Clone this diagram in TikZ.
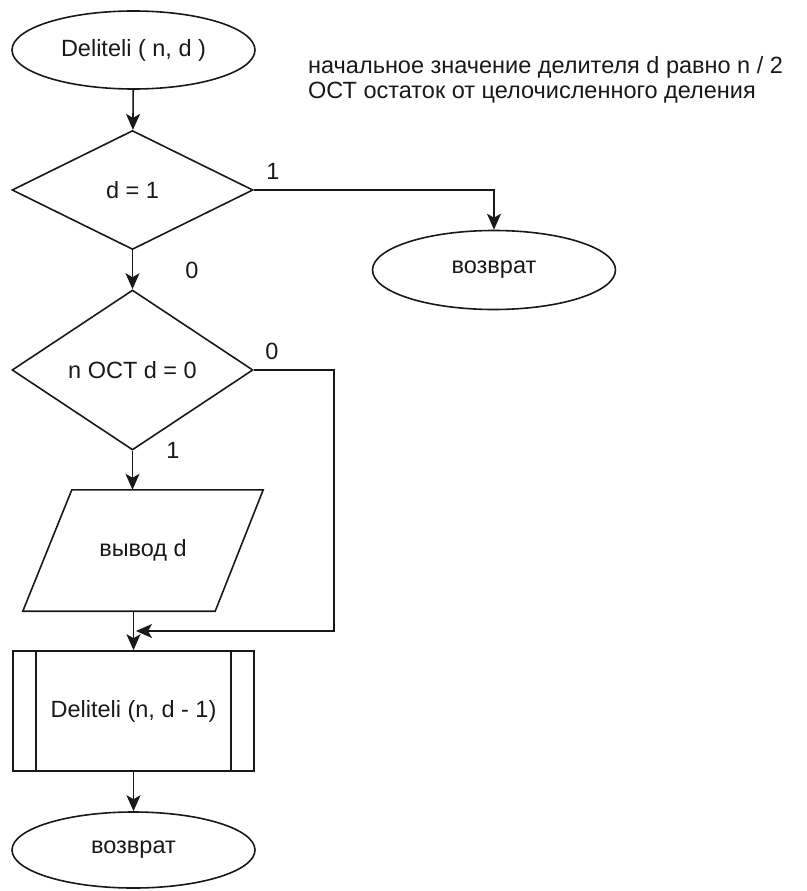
\documentclass[tikz,border=0pt]{standalone}
\usepackage{fontspec}
\setmainfont{Liberation Sans}
\usetikzlibrary{shapes.geometric,arrows.meta}
\begin{document}
\begin{tikzpicture}[x=1pt,y=-1pt,
  every node/.style={font=\fontsize{23.5}{26}\selectfont, inner sep=0pt, text=black!90},
  line/.style={line width=1.6pt, draw=black!90},
  arr/.style={line, -{Stealth[length=16pt,width=14pt,inset=4pt]}},
  term/.style={ellipse, line, minimum width=243pt, minimum height=78pt},
  cond/.style={diamond, line, minimum width=241pt, minimum height=119pt, aspect=2},
  subproc/.style={rectangle, line, minimum width=241pt, minimum height=120pt},
  lbl/.style={font=\fontsize{23.5}{26}\selectfont}
]
\useasboundingbox (0,0) rectangle (806,891);

% main column
\node[term] (start) at (133.5,50) {Deliteli ( n, d )};
\node[cond] (d1) at (132.5,190) {d = 1};
\node[term, minimum height=79pt] (ret1) at (494,270) {возврат};
\node[cond, minimum height=160pt] (d2) at (132.5,370) {n OCT d = 0};
\node[minimum width=240pt, minimum height=121pt] (out) at (143,550.5) {вывод d};
\node[subproc] (sub) at (133.5,711) {Deliteli (n, d - 1)};
\node[term, minimum height=76pt] (ret2) at (133.5,850) {возврат};

% parallelogram outline of the output block
\draw[line] ([xshift=49pt]out.north west) -- (out.north east)
  -- ([xshift=-48pt]out.south east) -- (out.south west) -- cycle;

% side bars of the subroutine block
\draw[line] ([xshift=24pt]sub.north west) -- ([xshift=24pt]sub.south west);
\draw[line] ([xshift=-24pt]sub.north east) -- ([xshift=-24pt]sub.south east);

% notes
\node[anchor=base west] (note1) at (308,74) {начальное значение делителя d равно n / 2};
\node[anchor=base west] (note2) at (308,98) {ОСТ остаток от целочисленного деления};

% connectors
\coordinate (join) at (136,631);
\draw[arr] (start) -- (d1);
\draw[arr] (d1.east) -| (ret1.north);
\draw[arr] (d1) -- (d2);
\draw[arr] (d2.south) -- (d2.south |- out.north);
\draw[arr] (d2.east) -- ++(80,0) |- (join);
\draw[arr] (sub.north |- out.south) -- (sub.north);
\draw[arr] (sub) -- (ret2);

% branch labels
\node[lbl] (l1) at (273,171) {1};
\node[lbl] (l2) at (192,270) {0};
\node[lbl] (l3) at (272,351) {0};
\node[lbl] (l4) at (173,450) {1};
\end{tikzpicture}
\end{document}
